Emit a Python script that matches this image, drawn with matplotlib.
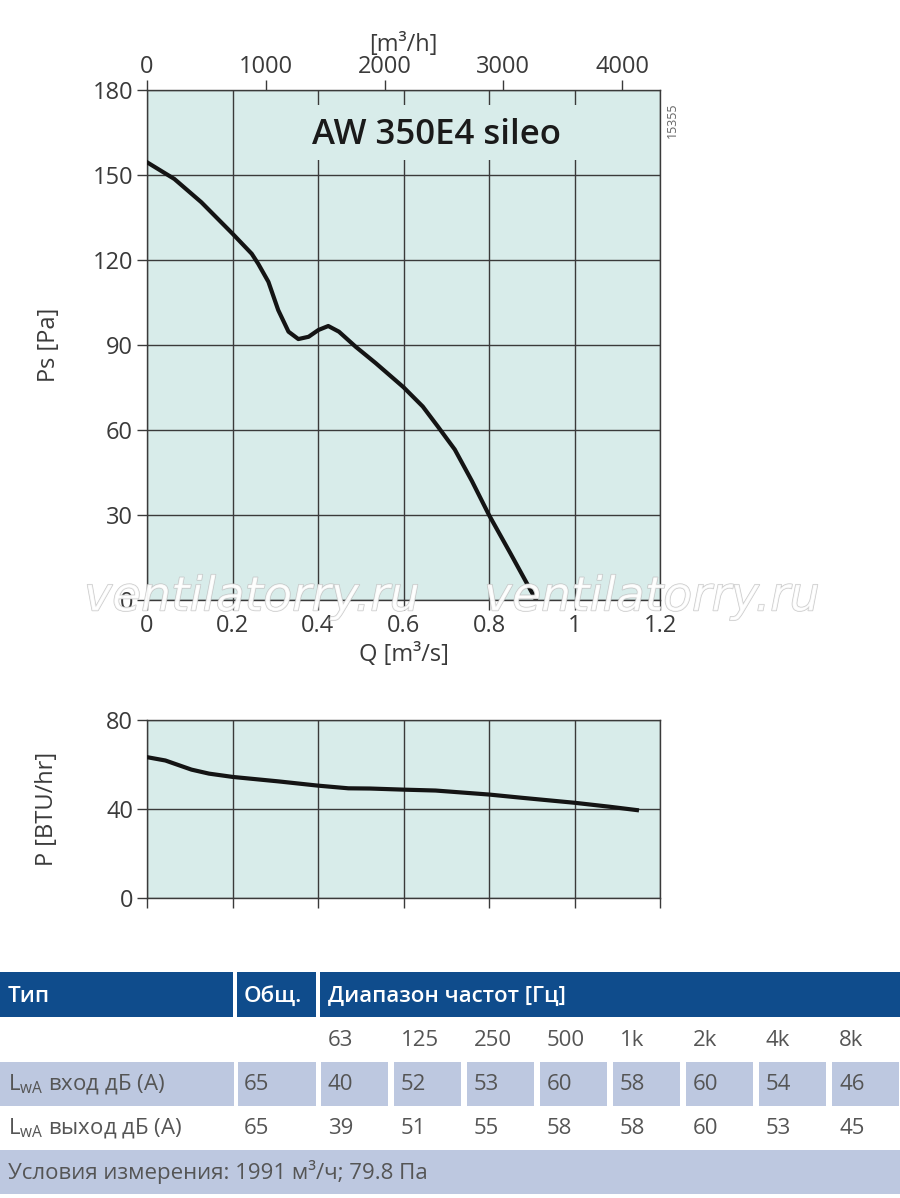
import matplotlib
matplotlib.use('Agg')
import matplotlib.pyplot as plt
import matplotlib.patheffects as pe
from matplotlib.patches import Rectangle

plt.rcParams['font.family'] = ['Open Sans', 'DejaVu Sans']

# pressure curve, Q [m3/s] vs Ps [Pa]
q_ps = [0.0, 0.064, 0.127, 0.2, 0.245, 0.26, 0.284, 0.307, 0.331, 0.354, 0.378,
        0.401, 0.424, 0.449, 0.488, 0.535, 0.6, 0.645, 0.68, 0.72, 0.76, 0.8, 0.85, 0.91]
ps = [154.5, 148.6, 140.4, 129.3, 122.2, 118.7, 112.3, 102.3, 94.7, 92.1, 92.9,
      95.3, 96.7, 94.7, 89.4, 83.6, 75.1, 68.3, 61.3, 53.1, 42.0, 30.0, 16.5, 0.0]

# power curve, Q [m3/s] vs P [BTU/hr]
q_p = [0.0, 0.043, 0.104, 0.145, 0.201, 0.308, 0.4, 0.471, 0.522, 0.6, 0.675,
       0.8, 0.879, 1.0, 1.083, 1.146]
power = [63.3, 61.8, 57.7, 55.9, 54.4, 52.4, 50.5, 49.3, 49.2, 48.7, 48.3,
         46.5, 45.0, 42.8, 41.0, 39.5]

ps_ticks = [0, 30, 60, 90, 120, 150, 180]
p_ticks = [0, 40, 80]
q_ticks = [0, 0.2, 0.4, 0.6, 0.8, 1, 1.2]
q_labels = ['0', '0.2', '0.4', '0.6', '0.8', '1', '1.2']
flow_ticks = [0, 1000, 2000, 3000, 4000]

# sound table
freqs = ['63', '125', '250', '500', '1k', '2k', '4k', '8k']
inlet_total = 65
inlet = [40, 52, 53, 60, 58, 60, 54, 46]
outlet_total = 65
outlet = [39, 51, 55, 58, 58, 60, 53, 45]
conditions = 'Условия измерения: 1991 м³/ч; 79.8 Па'

W, H = 900, 1198
BG = '#d8ecea'
GRID = '#3a3a3a'
BLUE = '#0f4c8c'
LIGHT = '#bdc8e0'
TXT = '#555555'
LBL = '#3a3a3a'


def fx(x):
    return x / W


def fy(y):
    return 1 - y / H


fig = plt.figure(figsize=(9, 11.98), dpi=100)

ax = fig.add_axes([fx(147), fy(600), fx(660) - fx(147), fy(90) - fy(600)])
ax2 = fig.add_axes([fx(147), fy(898), fx(660) - fx(147), fy(720) - fy(898)])

for a in (ax, ax2):
    a.set_facecolor(BG)
    a.set_xlim(0, 1.2)
    a.set_xticks(q_ticks)
    a.grid(True, color=GRID, linewidth=1.0)
    a.set_axisbelow(True)
    for s in a.spines.values():
        s.set_color(GRID)
        s.set_linewidth(1.0)
    a.tick_params(direction='out', length=7, width=1, color=GRID, pad=3,
                  labelsize=17, labelcolor=LBL)

ax.plot(q_ps, ps, color='#141414', linewidth=3.0, zorder=3)
ax.set_ylim(0, 180)
ax.set_yticks(ps_ticks)
ax.set_xticklabels(q_labels)
ax.set_ylabel('Ps [Pa]', fontsize=17, color=LBL, labelpad=23)
ax.set_xlabel('Q [m³/s]', fontsize=17, color=LBL, labelpad=4)

top = ax.secondary_xaxis('top', functions=(lambda x: x * 3600, lambda x: x / 3600))
top.set_xticks(flow_ticks)
top.tick_params(direction='out', length=7, width=1, color=GRID, pad=1,
                labelsize=17, labelcolor=LBL)
top.spines['top'].set_visible(False)
top.set_xlabel('[m³/h]', fontsize=17, color=LBL, labelpad=3)

# panel behind the model name hides the grid lines
ax.add_patch(Rectangle((0.334, 155.3), 1.06 - 0.334, 174.7 - 155.3,
                       facecolor=BG, edgecolor='none', zorder=1.5))
ax.text(0.678, 164, 'AW 350E4 sileo', fontsize=25, fontweight='semibold',
        color='#1a1a1a', ha='center', va='center', zorder=2)
fig.text(fx(672), fy(120), '15355', rotation=90, fontsize=9, color='#666666',
         ha='center', va='center')

ax2.plot(q_p, power, color='#141414', linewidth=3.0, zorder=3)
ax2.set_ylim(0, 80)
ax2.set_yticks(p_ticks)
ax2.set_xticklabels([])
ax2.set_ylabel('P [BTU/hr]', fontsize=17, color=LBL, labelpad=34)

# watermark
for cx in (252, 652):
    fig.text(fx(cx), fy(598), 'ventilatorry.ru', fontsize=34, style='italic',
             family='DejaVu Sans', color='white', ha='center', va='center',
             alpha=0.8, zorder=10,
             path_effects=[pe.withStroke(linewidth=1.0, foreground='#bdbdbd')])

# table
def cell(x0, x1, y0, y1, color):
    fig.patches.append(Rectangle((fx(x0), fy(y1)), fx(x1) - fx(x0), fy(y0) - fy(y1),
                                 transform=fig.transFigure, facecolor=color,
                                 edgecolor='none', zorder=0))


col_w = 73
col_x = [321 + i * col_w for i in range(len(freqs))]

for x0, x1 in [(0, 233), (237, 316), (320, 900)]:
    cell(x0, x1, 972, 1017, BLUE)
fig.text(fx(8), fy(996), 'Тип', fontsize=16, fontweight='semibold', color='white', va='center')
fig.text(fx(244), fy(996), 'Общ.', fontsize=16, fontweight='semibold', color='white', va='center')
fig.text(fx(328), fy(996), 'Диапазон частот [Гц]', fontsize=16, fontweight='semibold',
         color='white', va='center')

for x, f in zip(col_x, freqs):
    fig.text(fx(x + 7), fy(1040), f, fontsize=16, color=TXT, va='center')

cell(0, 234, 1062, 1106, LIGHT)
cell(238, 316, 1062, 1106, LIGHT)
for x in col_x:
    cell(x, x + col_w - 6, 1062, 1106, LIGHT)

rows = [(1084, 'L$_{\\mathregular{wA}}$ вход дБ (А)', inlet_total, inlet),
        (1128, 'L$_{\\mathregular{wA}}$ выход дБ (А)', outlet_total, outlet)]
for y, name, total, vals in rows:
    fig.text(fx(8), fy(y), name, fontsize=16, color=TXT, va='center')
    fig.text(fx(244), fy(y), str(total), fontsize=16, color=TXT, va='center')
    for x, v in zip(col_x, vals):
        fig.text(fx(x + 7), fy(y), str(v), fontsize=16, color=TXT, va='center')

cell(0, 900, 1150, 1194, LIGHT)
fig.text(fx(8), fy(1172), conditions, fontsize=16, color=TXT, va='center')

fig.savefig('out.png', dpi=100, facecolor='white')
